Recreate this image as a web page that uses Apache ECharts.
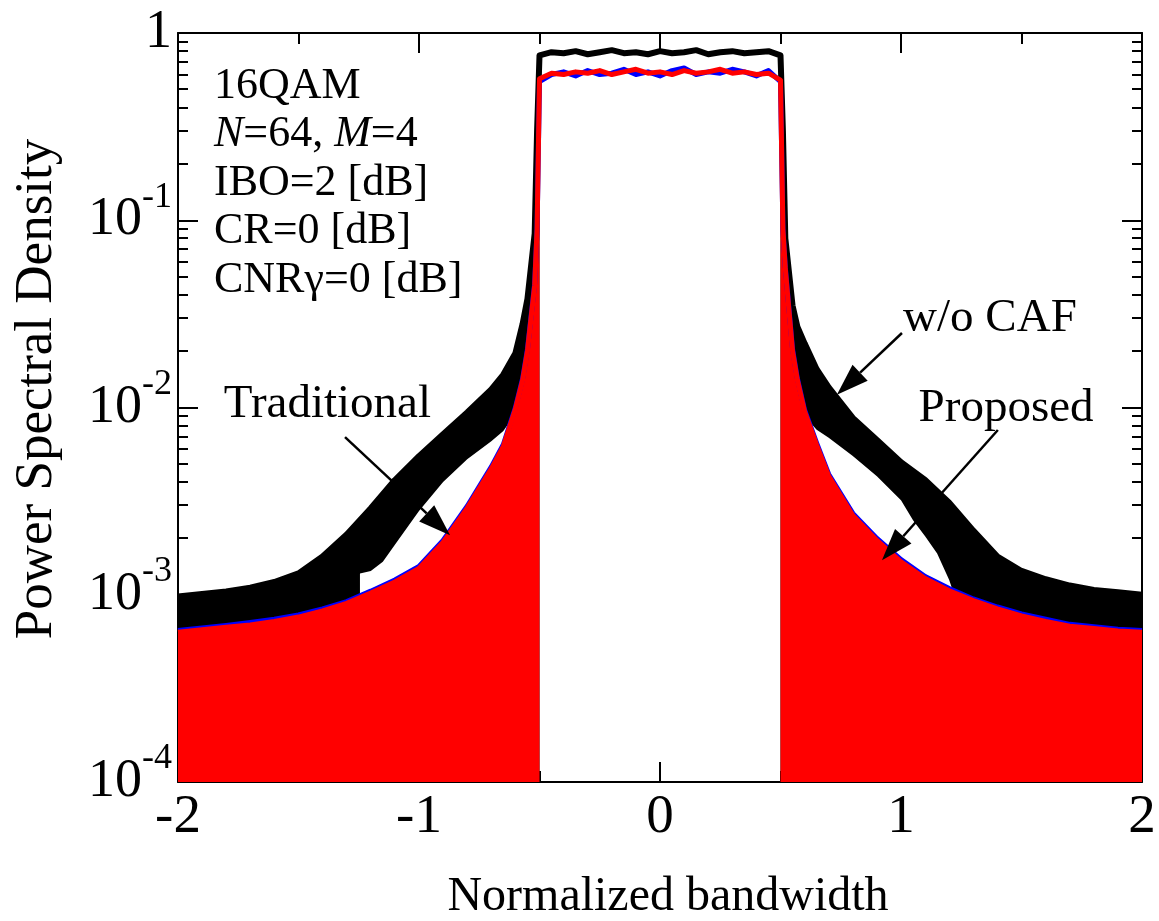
<!DOCTYPE html>
<html>
<head>
<meta charset="utf-8">
<script src="https://cdn.jsdelivr.net/npm/echarts@6/dist/echarts.min.js"></script>
<style>
  html, body { margin: 0; padding: 0; background: #fff; }
  #chart { width: 1159px; height: 921px; }
</style>
</head>
<body>
<div id="chart"></div>
<script>
// ---- Spectrum samples (normalized bandwidth vs. PSD) ----
// out-of-band grids
const leftX  = [-2, -1.9, -1.8, -1.7, -1.6, -1.5, -1.4, -1.3, -1.2, -1.1, -1.0, -0.9, -0.8, -0.7, -0.65, -0.6, -0.57, -0.55, -0.52, -0.51];
const rightX = [0.51, 0.52, 0.55, 0.57, 0.6, 0.65, 0.7, 0.8, 0.9, 1.0, 1.1, 1.2, 1.3, 1.4, 1.5, 1.6, 1.7, 1.8, 1.9, 2.0];
// in-band grid
const bandX  = [-0.5, -0.45, -0.4, -0.35, -0.3, -0.25, -0.2, -0.15, -0.1, -0.05, 0, 0.05, 0.1, 0.15, 0.2, 0.25, 0.3, 0.35, 0.4, 0.45, 0.5];

// w/o CAF: upper edge of the spread, in-band level, lower edge of the spread
const noCafLeftUpper  = [9.8e-4, 1.01e-3, 1.04e-3, 1.09e-3, 1.17e-3, 1.3e-3, 1.6e-3, 2.1e-3, 2.9e-3, 4.1e-3, 5.5e-3, 7.2e-3, 9.4e-3, 1.25e-2, 1.5e-2, 1.95e-2, 2.8e-2, 3.8e-2, 8.5e-2, 0.3];
const noCafRightUpper = [0.3, 0.08, 0.035, 0.027, 0.022, 0.016, 0.0128, 8.8e-3, 6.7e-3, 5.1e-3, 4.1e-3, 3.1e-3, 2.2e-3, 1.6e-3, 1.34e-3, 1.21e-3, 1.12e-3, 1.06e-3, 1.03e-3, 1.0e-3];
const noCafBand = [0.76, 0.79, 0.78, 0.80, 0.77, 0.79, 0.81, 0.78, 0.79, 0.77, 0.80, 0.78, 0.79, 0.81, 0.77, 0.79, 0.80, 0.78, 0.79, 0.80, 0.76];
const noCafLowerLeftX  = [-1.245, -1.2, -1.15, -1.1, -1.0, -0.9, -0.8, -0.7, -0.65, -0.6];
const noCafLowerLeft   = [1.3e-3, 1.34e-3, 1.5e-3, 1.85e-3, 2.8e-3, 4.0e-3, 5.3e-3, 6.6e-3, 7.5e-3, 9.3e-3];
const noCafLowerRightX = [0.6, 0.65, 0.7, 0.8, 0.9, 1.0, 1.05, 1.1, 1.15, 1.2, 1.215];
const noCafLowerRight  = [9.0e-3, 7.6e-3, 6.9e-3, 5.5e-3, 4.3e-3, 3.2e-3, 2.5e-3, 2.05e-3, 1.66e-3, 1.2e-3, 1.05e-3];

// Traditional
const tradLeft  = [6.45e-4, 6.65e-4, 6.85e-4, 7.1e-4, 7.4e-4, 7.8e-4, 8.4e-4, 9.2e-4, 1.045e-3, 1.2e-3, 1.415e-3, 1.95e-3, 2.97e-3, 4.82e-3, 6.35e-3, 1.0e-2, 1.43e-2, 2.05e-2, 4.6e-2, 9.0e-2];
const tradRight = [9.0e-2, 5.6e-2, 2.05e-2, 1.43e-2, 9.7e-3, 6.45e-3, 4.4e-3, 2.72e-3, 2.0e-3, 1.54e-3, 1.25e-3, 1.08e-3, 9.5e-4, 8.6e-4, 7.9e-4, 7.4e-4, 6.95e-4, 6.75e-4, 6.55e-4, 6.45e-4];
const tradBand  = [0.55, 0.60, 0.62, 0.59, 0.63, 0.60, 0.61, 0.64, 0.60, 0.62, 0.59, 0.63, 0.65, 0.60, 0.62, 0.61, 0.64, 0.62, 0.59, 0.63, 0.55];

// Proposed
const propLeft  = [6.3e-4, 6.5e-4, 6.7e-4, 6.9e-4, 7.2e-4, 7.6e-4, 8.2e-4, 9.0e-4, 1.02e-3, 1.17e-3, 1.38e-3, 1.9e-3, 2.9e-3, 4.7e-3, 6.2e-3, 9.8e-3, 1.4e-2, 2.0e-2, 4.5e-2, 9.0e-2];
const propRight = [9.0e-2, 5.5e-2, 2.0e-2, 1.4e-2, 9.5e-3, 6.3e-3, 4.3e-3, 2.65e-3, 1.95e-3, 1.5e-3, 1.22e-3, 1.05e-3, 9.3e-4, 8.4e-4, 7.7e-4, 7.2e-4, 6.8e-4, 6.6e-4, 6.4e-4, 6.3e-4];
const propBand  = [0.57, 0.61, 0.60, 0.62, 0.61, 0.63, 0.60, 0.62, 0.64, 0.61, 0.62, 0.60, 0.63, 0.61, 0.62, 0.64, 0.61, 0.62, 0.60, 0.61, 0.56];

// axis ticks
const xMajorTicks = [-2, -1, 0, 1, 2];
const yMajorTicks = [1e-4, 1e-3, 1e-2, 1e-1, 1];
const yMinorMantissas = [2, 3, 4, 5, 6, 7, 8, 9];

// text block and arrow labels
const paramLines = ['16QAM', '{i|N}=64, {i|M}=4', 'IBO=2 [dB]', 'CR=0 [dB]', 'CNR\u03b3=0 [dB]'];
const arrowLabels = [
  { text: 'Traditional', at: [-1.38, 1.03e-2], from: [-1.307, 6.95e-3], to: [-0.871, 2.08e-3] },
  { text: 'w/o CAF',     at: [1.369, 3.0e-2],  from: [1.004, 2.5e-2],   to: [0.734, 1.17e-2] },
  { text: 'Proposed',    at: [1.436, 9.9e-3],  from: [1.402, 7.58e-3],  to: [0.921, 1.53e-3] }
];

const FONT = '"Liberation Serif", "Times New Roman", Times, serif';
const pairs = (xs, ys) => xs.map((x, i) => [x, ys[i]]);
const last = a => a[a.length - 1];

const noCafFull = [...pairs(leftX, noCafLeftUpper), ...pairs(bandX, noCafBand), ...pairs(rightX, noCafRightUpper)];
const tradFull  = [...pairs(leftX, tradLeft), ...pairs(bandX, tradBand), ...pairs(rightX, tradRight)];
const propFull  = [...pairs(leftX, propLeft), ...pairs(bandX, propBand), ...pairs(rightX, propRight)];

function fill(data, color) {
  return {
    type: 'line', data, showSymbol: false, silent: true,
    lineStyle: { width: 0 }, itemStyle: { color },
    areaStyle: { color, opacity: 1, origin: 'start' }
  };
}
function curve(data, color, width) {
  return {
    type: 'line', data, showSymbol: false, silent: true,
    lineStyle: { color, width, join: 'round' }, itemStyle: { color }
  };
}

const axisLineStyle = { color: '#000', width: 2 };
function xAxisDef(pos, showLabel) {
  return {
    type: 'value', position: pos, min: -2, max: 2, interval: 1,
    axisLine: { onZero: false, lineStyle: axisLineStyle },
    axisTick: { inside: true, length: 20, lineStyle: axisLineStyle },
    minorTick: { show: true, splitNumber: 2, length: 11, lineStyle: axisLineStyle },
    splitLine: { show: false }, minorSplitLine: { show: false },
    axisLabel: {
      show: showLabel, color: '#000', fontFamily: FONT, fontSize: 55, margin: 8,
      customValues: xMajorTicks, formatter: v => String(v)
    }
  };
}
function yAxisDef(pos, showLabel) {
  return {
    type: 'log', logBase: 10, position: pos, min: 1e-4, max: 1,
    axisLine: { onZero: false, lineStyle: axisLineStyle },
    axisTick: { inside: true, length: 20, lineStyle: axisLineStyle },
    splitLine: { show: false },
    axisLabel: {
      show: showLabel, margin: 6, color: '#000',
      formatter: v => {
        const e = Math.round(Math.log10(v));
        return e === 0 ? '{b|1}' : '{b|10}{s|' + e + '}';
      },
      rich: {
        b: { fontFamily: FONT, fontSize: 54, color: '#000', padding: [14, 0, 14, 0] },
        s: { fontFamily: FONT, fontSize: 36, color: '#000', verticalAlign: 'top' }
      }
    }
  };
}

const chart = echarts.init(document.getElementById('chart'), null, { renderer: 'canvas' });
chart.setOption({
  animation: false,
  backgroundColor: '#fff',
  grid: { left: 178, right: 17, top: 33, bottom: 139 },
  xAxis: [xAxisDef('bottom', true), xAxisDef('top', false)],
  yAxis: [yAxisDef('left', true), yAxisDef('right', false)],
  series: [
    fill([...pairs(leftX, noCafLeftUpper), [bandX[0], noCafBand[0]]], '#000'),
    fill([[last(bandX), last(noCafBand)], ...pairs(rightX, noCafRightUpper)], '#000'),
    fill(pairs(noCafLowerLeftX, noCafLowerLeft), '#fff'),
    fill(pairs(noCafLowerRightX, noCafLowerRight), '#fff'),
    curve(noCafFull, '#000', 6),
    curve(tradFull, '#0000ff', 5),
    fill([...pairs(leftX, propLeft), [bandX[0], propBand[0]]], '#ff0000'),
    fill([[last(bandX), last(propBand)], ...pairs(rightX, propRight)], '#ff0000'),
    curve(propFull, '#ff0000', 5)
  ]
});

// minor decade ticks, annotations and axis titles
const toPx = (x, y) => chart.convertToPixel({ xAxisIndex: 0, yAxisIndex: 0 }, [x, y]);
const xL = chart.convertToPixel({ xAxisIndex: 0 }, -2);
const xR = chart.convertToPixel({ xAxisIndex: 0 }, 2);
const elements = [];
for (let d = 0; d < yMajorTicks.length - 1; d++) {
  yMinorMantissas.forEach(m => {
    const y = Math.round(chart.convertToPixel({ yAxisIndex: 0 }, m * yMajorTicks[d]));
    elements.push({ type: 'line', z: 0, silent: true, shape: { x1: xL, y1: y, x2: xL + 10, y2: y }, style: { stroke: '#000', lineWidth: 2 } });
    elements.push({ type: 'line', z: 0, silent: true, shape: { x1: xR - 10, y1: y, x2: xR, y2: y }, style: { stroke: '#000', lineWidth: 2 } });
  });
}

paramLines.forEach((t, i) => {
  elements.push({
    type: 'text', z: 100, x: 214, y: 86 + i * 48.5,
    style: {
      text: t, fill: '#000', font: '44px ' + FONT, align: 'left', verticalAlign: 'middle',
      rich: { i: { fontStyle: 'italic', fontFamily: FONT, fontSize: 44 } }
    }
  });
});

arrowLabels.forEach(a => {
  const p = toPx(a.at[0], a.at[1]);
  const s = toPx(a.from[0], a.from[1]);
  const t = toPx(a.to[0], a.to[1]);
  elements.push({
    type: 'text', z: 100, x: p[0], y: p[1],
    style: { text: a.text, fill: '#000', font: '47px ' + FONT, align: 'center', verticalAlign: 'middle' }
  });
  const dx = t[0] - s[0], dy = t[1] - s[1];
  const len = Math.hypot(dx, dy), ux = dx / len, uy = dy / len;
  const headL = 32, headW = 11;
  const bx = t[0] - ux * headL, by = t[1] - uy * headL;
  elements.push({ type: 'line', z: 100, shape: { x1: s[0], y1: s[1], x2: bx, y2: by }, style: { stroke: '#000', lineWidth: 2.5 } });
  elements.push({
    type: 'polygon', z: 100,
    shape: { points: [[t[0], t[1]], [bx - uy * headW, by + ux * headW], [bx + uy * headW, by - ux * headW]] },
    style: { fill: '#000' }
  });
});

elements.push({
  type: 'text', z: 100, x: 668, y: 897,
  style: { text: 'Normalized bandwidth', fill: '#000', font: '48px ' + FONT, align: 'center', verticalAlign: 'middle' }
});
elements.push({
  type: 'text', z: 100, x: 37, y: 389, rotation: Math.PI / 2,
  style: { text: 'Power Spectral Density', fill: '#000', font: '53px ' + FONT, align: 'center', verticalAlign: 'middle' }
});

chart.setOption({ graphic: { elements } });
</script>
</body>
</html>
